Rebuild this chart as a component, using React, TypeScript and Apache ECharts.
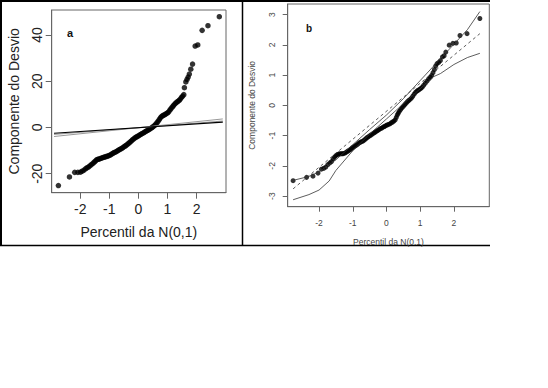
import React, { useEffect, useRef } from "react";
import * as echarts from "echarts";

// Panel a: quantile plot of deviance components (x: N(0,1) percentile, y: component)
const pointsA: number[][] = [
  [-2.75, -25.1], [-2.37, -21.4], [-2.19, -19.4], [-2.08, -19.4], [-1.99, -19.3], [-1.93, -18.9],
  [-1.87, -18.4], [-1.81, -17.8], [-1.76, -17.4], [-1.71, -17.0], [-1.66, -16.5], [-1.61, -16.0],
  [-1.56, -15.5], [-1.52, -15.0], [-1.48, -14.5], [-1.44, -14.0], [-1.40, -13.8], [-1.36, -13.7],
  [-1.32, -13.5], [-1.28, -13.3], [-1.24, -13.1], [-1.20, -12.9], [-1.16, -12.8], [-1.12, -12.6],
  [-1.08, -12.5], [-1.04, -12.3], [-1.00, -12.1], [-0.96, -11.8], [-0.92, -11.5], [-0.88, -11.2],
  [-0.84, -10.9], [-0.80, -10.7], [-0.76, -10.4], [-0.72, -10.1], [-0.68, -9.8], [-0.64, -9.5],
  [-0.60, -9.2], [-0.56, -8.9], [-0.52, -8.6], [-0.48, -8.2], [-0.44, -7.9], [-0.40, -7.5],
  [-0.36, -7.1], [-0.32, -6.7], [-0.28, -6.2], [-0.24, -5.8], [-0.20, -5.3], [-0.16, -4.9],
  [-0.12, -4.5], [-0.08, -4.2], [-0.04, -3.9], [0.00, -3.6], [0.04, -3.3], [0.08, -3.0],
  [0.12, -2.7], [0.16, -2.4], [0.20, -2.1], [0.24, -1.8], [0.28, -1.5], [0.32, -1.2],
  [0.36, -0.9], [0.40, -0.6], [0.44, -0.3], [0.48, 0.1], [0.52, 0.5], [0.56, 0.9],
  [0.60, 1.5], [0.64, 2.1], [0.68, 2.8], [0.72, 3.5], [0.76, 4.3], [0.80, 4.8],
  [0.84, 5.1], [0.88, 5.4], [0.92, 5.7], [0.96, 6.0], [1.00, 6.3], [1.04, 6.8],
  [1.08, 7.5], [1.12, 8.2], [1.16, 8.8], [1.20, 9.4], [1.24, 10.0], [1.28, 10.5],
  [1.32, 11.0], [1.36, 11.3], [1.40, 11.7], [1.44, 12.3], [1.48, 13.0], [1.52, 13.6],
  [1.56, 14.2], [1.58, 17.2], [1.63, 19.7], [1.67, 20.8], [1.71, 21.8], [1.75, 23.1],
  [1.80, 25.2], [1.86, 27.4], [1.95, 35.2], [2.04, 35.7], [2.19, 42.0], [2.39, 44.0],
  [2.78, 47.9],
];
const lineA: number[][] = [[-2.9, -2.5], [2.9, 2.3]];
const envA1: number[][] = [[-2.9, -3.0], [2.9, 2.8]];
const envA2: number[][] = [[-2.9, -3.9], [2.9, 3.7]];

// Panel b
const pointsB: number[][] = [
  [-2.77, -2.49], [-2.37, -2.38], [-2.18, -2.34], [-2.03, -2.24], [-1.93, -2.11], [-1.86, -2.08],
  [-1.80, -2.04], [-1.74, -1.96], [-1.68, -1.90], [-1.63, -1.86], [-1.58, -1.77], [-1.54, -1.71],
  [-1.50, -1.66], [-1.46, -1.63], [-1.42, -1.61], [-1.38, -1.60], [-1.34, -1.60], [-1.30, -1.60],
  [-1.26, -1.59], [-1.22, -1.57], [-1.18, -1.54], [-1.14, -1.51], [-1.10, -1.48], [-1.06, -1.45],
  [-1.02, -1.41], [-0.98, -1.38], [-0.94, -1.35], [-0.90, -1.32], [-0.86, -1.29], [-0.82, -1.25],
  [-0.78, -1.22], [-0.74, -1.20], [-0.70, -1.18], [-0.66, -1.15], [-0.62, -1.11], [-0.58, -1.07],
  [-0.54, -1.04], [-0.50, -1.01], [-0.46, -0.98], [-0.42, -0.95], [-0.38, -0.92], [-0.34, -0.89],
  [-0.30, -0.86], [-0.26, -0.83], [-0.22, -0.80], [-0.18, -0.77], [-0.14, -0.75], [-0.10, -0.72],
  [-0.06, -0.70], [-0.02, -0.67], [0.02, -0.65], [0.06, -0.63], [0.10, -0.61], [0.14, -0.58],
  [0.18, -0.55], [0.22, -0.52], [0.26, -0.48], [0.29, -0.40], [0.32, -0.32], [0.35, -0.26],
  [0.38, -0.20], [0.42, -0.14], [0.46, -0.08], [0.50, -0.03], [0.54, 0.02], [0.58, 0.07],
  [0.62, 0.12], [0.66, 0.16], [0.70, 0.20], [0.74, 0.24], [0.78, 0.30], [0.82, 0.37],
  [0.86, 0.43], [0.90, 0.47], [0.94, 0.50], [0.98, 0.53], [1.02, 0.56], [1.06, 0.60],
  [1.10, 0.66], [1.15, 0.73], [1.20, 0.80], [1.25, 0.87], [1.30, 0.93], [1.34, 0.99],
  [1.38, 1.08], [1.42, 1.18], [1.46, 1.30], [1.50, 1.38], [1.55, 1.42], [1.60, 1.48],
  [1.66, 1.60], [1.71, 1.64], [1.76, 1.76], [1.86, 1.99], [1.97, 2.05], [2.07, 2.06],
  [2.18, 2.31], [2.39, 2.37], [2.77, 2.87],
];
const upperB: number[][] = [
  [-2.77, -2.48], [-2.3, -2.35], [-2.0, -2.2], [-1.5, -1.8], [-1.0, -1.3], [-0.5, -0.8],
  [0.0, -0.32], [0.5, 0.22], [1.0, 0.82], [1.5, 1.42], [2.0, 2.02], [2.4, 2.5], [2.77, 3.1],
];
const midB: number[][] = [[-2.77, -2.76], [2.77, 2.37]];
const lowerB: number[][] = [
  [-2.77, -3.12], [-2.3, -2.95], [-2.0, -2.8], [-1.7, -2.5], [-1.5, -2.15], [-1.0, -1.5],
  [-0.5, -0.95], [0.0, -0.45], [0.5, 0.05], [1.0, 0.55], [1.4, 0.95], [1.6, 1.05],
  [2.0, 1.35], [2.4, 1.58], [2.77, 1.72],
];

const ticksA_x = [-2, -1, 0, 1, 2];
const ticksA_y = [-20, 0, 20, 40];
const ticksB_x = [-2, -1, 0, 1, 2];
const ticksB_y = [-3, -2, -1, 0, 1, 2, 3];

const FONT = "Liberation Sans";

export default function App() {
  const ref = useRef<HTMLDivElement>(null);
  useEffect(() => {
    if (!ref.current) return;
    const chart = echarts.init(ref.current, null, { renderer: "svg" });
    const axisCommon = () => ({
      type: "value" as const,
      axisLine: { show: true, onZero: false, lineStyle: { color: "#666", width: 1 } },
      splitLine: { show: false },
    });
    chart.setOption({
      animation: false,
      backgroundColor: "#fff",
      grid: [
        { left: 51.7, top: 10, width: 174.3, height: 182.7, show: true, borderColor: "#666", borderWidth: 1, backgroundColor: "transparent" },
        { left: 287.7, top: 4, width: 201.6, height: 202.7, show: true, borderColor: "#666", borderWidth: 1, backgroundColor: "transparent" },
      ],
      xAxis: [
        {
          ...axisCommon(),
          gridIndex: 0,
          min: -2.98,
          max: 3.01,
          axisTick: { show: true, length: 6, lineStyle: { color: "#666" }, customValues: ticksA_x },
          axisLabel: { customValues: ticksA_x, fontSize: 14, color: "#222", margin: 9, fontFamily: FONT },
          name: "Percentil da N(0,1)",
          nameLocation: "middle",
          nameGap: 32,
          nameTextStyle: { fontSize: 14, color: "#222", fontFamily: FONT },
        },
        {
          ...axisCommon(),
          gridIndex: 1,
          min: -2.93,
          max: 3.05,
          axisTick: { show: true, length: 5, lineStyle: { color: "#666" }, customValues: ticksB_x },
          axisLabel: { customValues: ticksB_x, fontSize: 8.5, color: "#444", margin: 12, fontFamily: FONT },
          name: "Percentil da N(0.1)",
          nameLocation: "middle",
          nameGap: 31,
          nameTextStyle: { fontSize: 8.5, color: "#444", fontFamily: FONT },
        },
      ],
      yAxis: [
        {
          ...axisCommon(),
          gridIndex: 0,
          min: -28.2,
          max: 50.8,
          axisTick: { show: true, length: 6, lineStyle: { color: "#666" }, customValues: ticksA_y },
          axisLabel: { customValues: ticksA_y, fontSize: 14, color: "#222", margin: 8, rotate: 90, fontFamily: FONT },
          name: "Componente do Desvio",
          nameLocation: "middle",
          nameGap: 31,
          nameRotate: 90,
          nameTextStyle: { fontSize: 14, color: "#222", fontFamily: FONT },
        },
        {
          ...axisCommon(),
          gridIndex: 1,
          min: -3.35,
          max: 3.35,
          axisTick: { show: true, length: 5, lineStyle: { color: "#666" }, customValues: ticksB_y },
          axisLabel: { customValues: ticksB_y, fontSize: 8.5, color: "#444", margin: 11, rotate: 90, fontFamily: FONT },
          name: "Componente do Desvio",
          nameLocation: "middle",
          nameGap: 31,
          nameRotate: 90,
          nameTextStyle: { fontSize: 8.5, color: "#444", fontFamily: FONT },
        },
      ],
      series: [
        { type: "line", xAxisIndex: 0, yAxisIndex: 0, data: envA2, showSymbol: false, lineStyle: { color: "#999", width: 1 }, silent: true },
        { type: "line", xAxisIndex: 0, yAxisIndex: 0, data: envA1, showSymbol: false, lineStyle: { color: "#999", width: 1 }, silent: true },
        { type: "line", xAxisIndex: 0, yAxisIndex: 0, data: lineA, showSymbol: false, lineStyle: { color: "#000", width: 1.2 }, silent: true },
        { type: "scatter", xAxisIndex: 0, yAxisIndex: 0, data: pointsA, symbol: "circle", symbolSize: 5.5, itemStyle: { color: "#000" } },
        { type: "line", xAxisIndex: 1, yAxisIndex: 1, data: upperB, showSymbol: false, lineStyle: { color: "#333", width: 0.8 }, silent: true },
        { type: "line", xAxisIndex: 1, yAxisIndex: 1, data: midB, showSymbol: false, lineStyle: { color: "#333", width: 0.8, type: [3, 3] }, silent: true },
        { type: "line", xAxisIndex: 1, yAxisIndex: 1, data: lowerB, showSymbol: false, lineStyle: { color: "#333", width: 0.8 }, silent: true },
        { type: "scatter", xAxisIndex: 1, yAxisIndex: 1, data: pointsB, symbol: "circle", symbolSize: 5, itemStyle: { color: "#000" } },
      ],
      graphic: [
        { type: "line", shape: { x1: 0, y1: 1, x2: 490, y2: 1 }, style: { stroke: "#000", lineWidth: 2 } },
        { type: "line", shape: { x1: 1, y1: 0, x2: 1, y2: 246 }, style: { stroke: "#000", lineWidth: 2 } },
        { type: "line", shape: { x1: 0, y1: 245.5, x2: 490, y2: 245.5 }, style: { stroke: "#000", lineWidth: 1.5 } },
        { type: "line", shape: { x1: 242.5, y1: 0, x2: 242.5, y2: 246 }, style: { stroke: "#000", lineWidth: 1.5 } },
        { type: "text", x: 67, y: 27, style: { text: "a", fontSize: 11, fontWeight: "bold", fill: "#111", fontFamily: FONT } },
        { type: "text", x: 306, y: 23, style: { text: "b", fontSize: 10, fontWeight: "bold", fill: "#111", fontFamily: FONT } },
      ],
    });
    return () => chart.dispose();
  }, []);
  return (
    <div
      ref={ref}
      style={{ position: "absolute", left: 0, top: 0, width: 548, height: 388, background: "#fff" }}
    />
  );
}
